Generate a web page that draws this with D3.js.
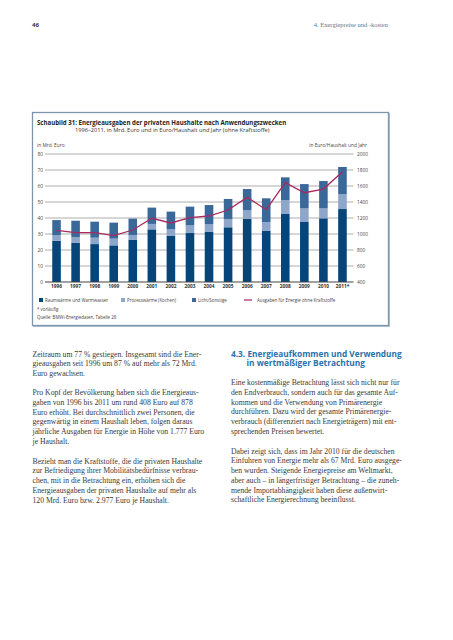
<!DOCTYPE html>
<html><head><meta charset="utf-8">
<script src="https://cdn.jsdelivr.net/npm/d3@7"></script>
<style>body{margin:0;background:#fff}svg{display:block}</style>
</head><body>
<script>
const years = ["1996","1997","1998","1999","2000","2001","2002","2003","2004","2005","2006","2007","2008","2009","2010","2011*"];
const raumwaerme = [25.8,24.6,23.7,22.9,26.5,32.9,29.0,30.6,31.5,34.2,39.4,31.9,42.5,37.5,39.8,45.6];
const prozesswaerme = [3.4,3.5,4.0,4.2,2.9,3.4,3.9,4.8,4.7,5.2,5.4,5.6,8.7,8.5,6.2,9.4];
const lichtSonstige = [9.5,10.2,10.0,10.0,10.2,10.2,11.1,11.7,11.9,12.5,13.3,14.8,14.2,15.2,17.1,16.9];
const euroHaushalt = [1046,1017,1017,980,1050,1196,1138,1204,1225,1300,1458,1304,1642,1516,1562,1779];
const leftTicks = [0,10,20,30,40,50,60,70,80];
const rightTicks = [400,600,800,1000,1200,1400,1600,1800,2000];
const seriesNames = ["Raumwärme und Warmwasser","Prozesswärme (Kochen)","Licht/Sonstige","Ausgaben für Energie ohne Kraftstoffe"];
const colors = ["#05457a","#8da6c9","#3a6898","#a72b5f"];

const leftText = [
 ["Zeitraum um 77 % gestiegen. Insgesamt sind die Ener-","gieausgaben seit 1996 um 87 % auf mehr als 72 Mrd.","Euro gewachsen."],
 ["Pro Kopf der Bevölkerung haben sich die Energieaus-","gaben von 1996 bis 2011 um rund 408 Euro auf 878","Euro erhöht. Bei durchschnittlich zwei Personen, die","gegenwärtig in einem Haushalt leben, folgen daraus","jährliche Ausgaben für Energie in Höhe von 1.777 Euro","je Haushalt."],
 ["Bezieht man die Kraftstoffe, die die privaten Haushalte","zur Befriedigung ihrer Mobilitätsbedürfnisse verbrau-","chen, mit in die Betrachtung ein, erhöhen sich die","Energieausgaben der privaten Haushalte auf mehr als","120 Mrd. Euro bzw. 2.977 Euro je Haushalt."]
];
const rightText = [
 ["Eine kostenmäßige Betrachtung lässt sich nicht nur für","den Endverbrauch, sondern auch für das gesamte Auf-","kommen und die Verwendung von Primärenergie","durchführen. Dazu wird der gesamte Primärenergie-","verbrauch (differenziert nach Energieträgern) mit ent-","sprechenden Preisen bewertet."],
 ["Dabei zeigt sich, dass im Jahr 2010 für die deutschen","Einfuhren von Energie mehr als 67 Mrd. Euro ausgege-","ben wurden. Steigende Energiepreise am Weltmarkt,","aber auch – in längerfristiger Betrachtung – die zuneh-","mende Importabhängigkeit haben diese außenwirt-","schaftliche Energierechnung beeinflusst."]
];

const W=453,H=640;
const svg=d3.select("body").append("svg").attr("width",W).attr("height",H);
svg.append("rect").attr("width",W).attr("height",H).attr("fill","#fff");

const sans="'Open Sans', 'Noto Sans', sans-serif";
const serif="'Liberation Serif', 'DejaVu Serif', serif";

// page header
svg.append("text").attr("x",32).attr("y",27).attr("font-family",sans).attr("font-weight","bold").attr("font-size",6).attr("fill","#333").text("46");
svg.append("text").attr("x",388).attr("y",27).attr("text-anchor","end").attr("font-family",serif).attr("font-size",6.5).attr("fill","#5b7891").text("4. Energiepreise und -kosten");

// box
svg.append("rect").attr("x",32.5).attr("y",112.5).attr("width",356).attr("height",213).attr("fill","none").attr("stroke","#7d96ad").attr("stroke-width",1.3);
svg.append("line").attr("x1",389.5).attr("x2",389.5).attr("y1",113).attr("y2",326.5).attr("stroke","#a9b9c7").attr("stroke-width",1);
svg.append("line").attr("x1",33).attr("x2",389.5).attr("y1",326.5).attr("y2",326.5).attr("stroke","#a9b9c7").attr("stroke-width",1);

svg.append("text").attr("x",37).attr("y",124.5).attr("font-family",sans).attr("font-weight","bold").attr("font-size",6.1).attr("fill","#222").text("Schaubild 31: Energieausgaben der privaten Haushalte nach Anwendungszwecken");
svg.append("text").attr("x",75).attr("y",131.5).attr("font-family",sans).attr("font-size",5.7).attr("fill","#333").text("1996–2011, in Mrd. Euro und in Euro/Haushalt und Jahr (ohne Kraftstoffe)");

const x=d3.scaleBand().domain(years).range([47,352]).paddingInner(0.55).paddingOuter(0.275);
const yL=d3.scaleLinear().domain([0,80]).range([282,154]);
const yR=d3.scaleLinear().domain([400,2000]).range([282,154]);

svg.append("text").attr("x",37).attr("y",146.5).attr("font-family",sans).attr("font-size",4.8).attr("fill","#444").text("in Mrd. Euro");
svg.append("text").attr("x",367).attr("y",146.5).attr("text-anchor","end").attr("font-family",sans).attr("font-size",4.8).attr("fill","#444").text("in Euro/Haushalt und Jahr");

// gridlines
svg.append("g").selectAll("line").data(leftTicks.filter(d=>d>0)).join("line")
 .attr("x1",45).attr("x2",353.5).attr("y1",d=>yL(d)).attr("y2",d=>yL(d))
 .attr("stroke","#c8c8c8").attr("stroke-width",1.3);

// left axis labels
const gl=svg.append("g").attr("transform","translate(43,0)").call(d3.axisLeft(yL).tickValues(leftTicks).tickFormat(d3.format("d")).tickSize(0).tickPadding(0));
gl.select(".domain").remove();
gl.selectAll("text").attr("font-family",sans).attr("font-size",4.8).attr("fill","#444");
// right axis labels
const gr=svg.append("g").attr("transform","translate(357,0)").call(d3.axisRight(yR).tickValues(rightTicks).tickFormat(d3.format("d")).tickSize(0).tickPadding(0));
gr.select(".domain").remove();
gr.selectAll("text").attr("font-family",sans).attr("font-size",4.8).attr("fill","#444");

// stacked bars
const rows=years.map((y,i)=>({year:y,a:raumwaerme[i],b:prozesswaerme[i],c:lichtSonstige[i]}));
const stack=d3.stack().keys(["a","b","c"])(rows);
svg.append("g").selectAll("g").data(stack).join("g").attr("fill",(d,i)=>colors[i])
 .selectAll("rect").data(d=>d).join("rect")
 .attr("x",d=>x(d.data.year)).attr("width",x.bandwidth())
 .attr("y",d=>yL(d[1])).attr("height",d=>yL(d[0])-yL(d[1]));

// zero axis
svg.append("line").attr("x1",45).attr("x2",353.5).attr("y1",yL(0)).attr("y2",yL(0)).attr("stroke","#444").attr("stroke-width",1.1);

// line
const line=d3.line().x((d,i)=>x(years[i])+x.bandwidth()/2).y(d=>yR(d));
svg.append("path").datum(euroHaushalt).attr("d",line).attr("fill","none").attr("stroke",colors[3]).attr("stroke-width",1.3);

// x labels
const gx=svg.append("g").attr("transform","translate(0,285)").call(d3.axisBottom(x).tickSize(0).tickPadding(0));
gx.select(".domain").remove();
gx.selectAll("text").attr("font-family",sans).attr("font-weight","bold").attr("font-size",4.8).attr("fill","#333");

// legend
const legX=[39,121,192,244];
const lg=svg.append("g").selectAll("g").data(seriesNames).join("g").attr("transform",(d,i)=>`translate(${legX[i]},300)`);
lg.each(function(d,i){
  const g=d3.select(this);
  if(i<3){ g.append("rect").attr("x",0).attr("y",-2).attr("width",4).attr("height",4).attr("fill",colors[i]);
    g.append("text").attr("x",6).attr("y",0).attr("dy","0.35em").attr("font-family",sans).attr("font-size",4.4).attr("fill","#444").text(d);}
  else { g.append("line").attr("x1",0).attr("x2",8).attr("y1",0).attr("y2",0).attr("stroke",colors[3]).attr("stroke-width",1.2);
    g.append("text").attr("x",13).attr("y",0).attr("dy","0.35em").attr("font-family",sans).attr("font-size",4.4).attr("fill","#444").text(d);}
});
svg.append("text").attr("x",37).attr("y",309).attr("dy","0.35em").attr("font-family",sans).attr("font-size",4.4).attr("fill","#444").text("* vorläufig");
svg.append("text").attr("x",37).attr("y",317).attr("dy","0.35em").attr("font-family",sans).attr("font-size",4.4).attr("fill","#444").text("Quelle: BMWi-Energiedaten, Tabelle 28");

// body text
function para(lines,x0,y0){
  svg.append("g").selectAll("text").data(lines).join("text")
   .attr("x",x0).attr("y",(d,i)=>y0+i*9.75).attr("dy","0.35em")
   .attr("font-family",serif).attr("font-size",7.7).attr("fill","#3a3a3a").text(d=>d);
}
para(leftText[0],32.5,354);
para(leftText[1],32.5,392.5);
para(leftText[2],32.5,461);
svg.append("text").attr("x",231).attr("y",354).attr("dy","0.35em").attr("font-family",sans).attr("font-weight","bold").attr("font-size",8.3).attr("fill","#2a72ad").text("4.3. Energieaufkommen und Verwendung");
svg.append("text").attr("x",246.5).attr("y",363.5).attr("dy","0.35em").attr("font-family",sans).attr("font-weight","bold").attr("font-size",8.3).attr("fill","#2a72ad").text("in wertmäßiger Betrachtung");
para(rightText[0],231,382.5);
para(rightText[1],231,451);
</script>
</body></html>
